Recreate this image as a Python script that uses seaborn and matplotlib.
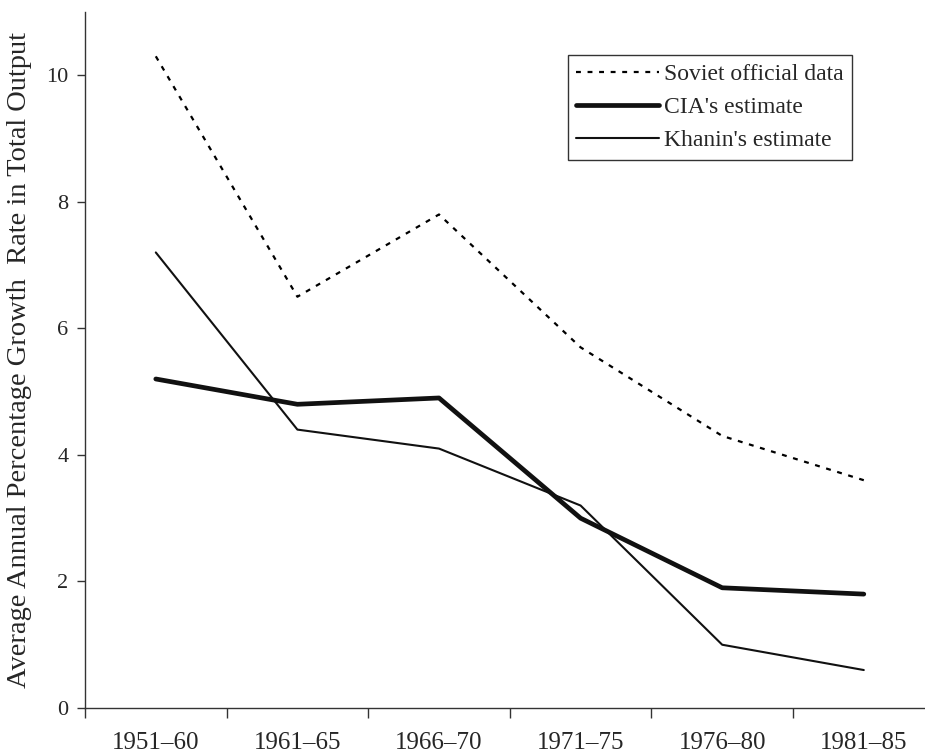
import matplotlib.pyplot as plt
import numpy as np
import pandas as pd
import seaborn as sns
from matplotlib.ticker import FixedLocator

# Data
periods = ['1951\u201360', '1961\u201365', '1966\u201370', '1971\u201375', '1976\u201380', '1981\u201385']
soviet_official = [10.3, 6.5, 7.8, 5.7, 4.3, 3.6]
cia_estimate = [5.2, 4.8, 4.9, 3.0, 1.9, 1.8]
khanin_estimate = [7.2, 4.4, 4.1, 3.2, 1.0, 0.6]

df = pd.DataFrame({
    'pos': np.arange(len(periods)),
    'period': periods,
    'soviet': soviet_official,
    'cia': cia_estimate,
    'khanin': khanin_estimate,
})

sns.set_style('ticks')
plt.rcParams['font.family'] = ['Liberation Serif', 'DejaVu Serif']

fig = plt.figure(figsize=(9.25, 7.56), dpi=100)
# axis width runs a little past the right edge, as in the original
ax_w = 849.6
ax_h = 696
ax = fig.add_axes([85 / 925, 48 / 756, ax_w / 925, ax_h / 756])

sns.lineplot(data=df, x='pos', y='soviet', ax=ax, color='black', linewidth=1.6,
             linestyle=(0, (2.2, 3.0)), label='Soviet official data')
sns.lineplot(data=df, x='pos', y='cia', ax=ax, color='#111111', linewidth=3.4,
             label="CIA's estimate")
sns.lineplot(data=df, x='pos', y='khanin', ax=ax, color='#111111', linewidth=1.5,
             label="Khanin's estimate")

ax.set_xlim(-0.5, len(periods) - 0.5)
ax.set_ylim(0, 11.0)

# category labels centred, tick marks on the boundaries
ax.set_xticks(df['pos'])
ax.set_xticklabels(periods, fontsize=18)
ax.xaxis.set_minor_locator(FixedLocator(np.arange(-0.5, len(periods), 1.0)))
ax.tick_params(axis='x', which='major', length=0, pad=17)
ax.tick_params(axis='x', which='minor', length=7, width=1, color='#333333', direction='out')

ax.set_yticks([0, 2, 4, 6, 8, 10])
ax.set_yticklabels(['0', '2', '4', '6', '8', '10'], fontsize=16)
ax.tick_params(axis='y', length=6, width=1, color='#333333', direction='out', pad=6)

ax.set_xlabel('')
ax.set_ylabel('Average Annual Percentage Growth  Rate in Total Output', fontsize=20.5, labelpad=10)

for side in ['top', 'right']:
    ax.spines[side].set_visible(False)
for side in ['left', 'bottom']:
    ax.spines[side].set_linewidth(1.0)
    ax.spines[side].set_color('#333333')

leg = ax.legend(loc='upper left', bbox_to_anchor=((568 - 85) / ax_w, 1 - (55 - 12) / ax_h),
                fontsize=17, frameon=True, fancybox=False, handlelength=3.5,
                handletextpad=0.2, borderpad=0.35, labelspacing=0.5, borderaxespad=0)
leg.get_frame().set_edgecolor('black')
leg.get_frame().set_linewidth(1.0)

fig.savefig('out.png', dpi=100)
